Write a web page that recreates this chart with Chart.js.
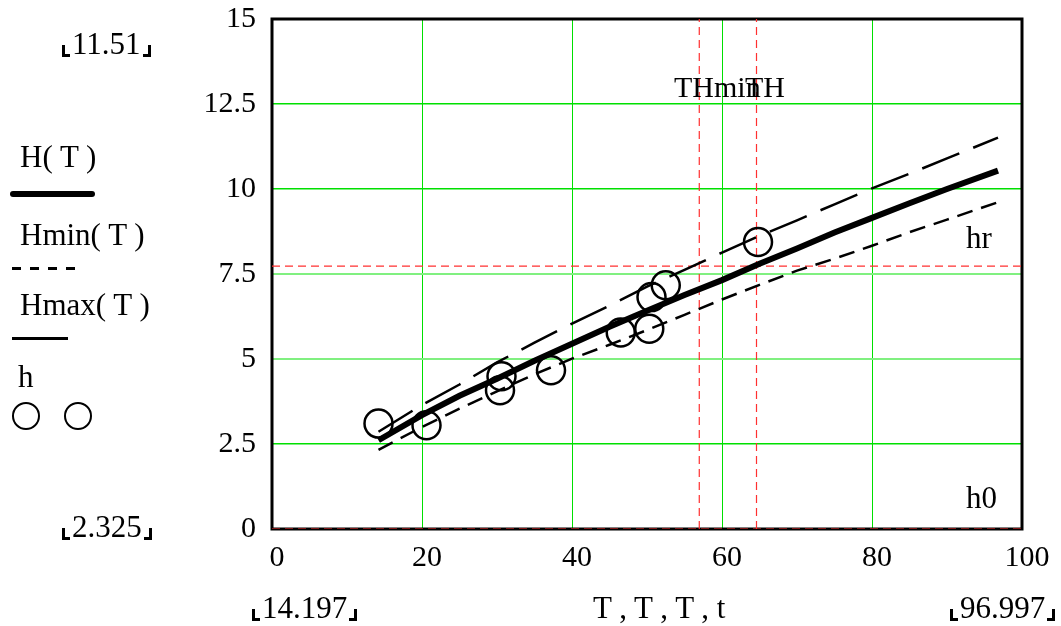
<!DOCTYPE html>
<html>
<head>
<meta charset="utf-8">
<script src="https://cdn.jsdelivr.net/npm/chart.js@4.4.0/dist/chart.umd.min.js"></script>
<style>
body { margin: 0; background: #fff; }
#wrap { position: relative; width: 1061px; height: 626px; font-family: "Liberation Serif", "Times New Roman", serif; font-size: 31px; color: #000; }
#chart { position: absolute; left: 0; top: 0; }
.txt { position: absolute; line-height: 31px; white-space: pre; }
.key { position: absolute; }
.ring { position: absolute; width: 24px; height: 24px; border: 2.5px solid #000; border-radius: 50%; }
.cl, .cr { display: inline-block; width: 5px; height: 9px; border-bottom: 3px solid #000; vertical-align: -3px; }
.cl { border-left: 3px solid #000; margin-right: 2px; }
.cr { border-right: 3px solid #000; margin-left: 2px; }
</style>
</head>
<body>
<div id="wrap">
  <canvas id="chart" width="1061" height="626"></canvas>

  <div class="txt" style="left:62px; top:28px;"><i class="cl"></i>11.51<i class="cr"></i></div>
  <div class="txt" style="left:20px; top:141px;">H( T )</div>
  <div class="key" style="left:10px; top:191px; width:85px; height:6px; border-radius:3px; background:#000;"></div>
  <div class="txt" style="left:20px; top:219px;">Hmin( T )</div>
  <div class="key" style="left:12px; top:267px; width:66px; height:3px; background:repeating-linear-gradient(to right, #000 0 9px, transparent 9px 18px);"></div>
  <div class="txt" style="left:20px; top:289px;">Hmax( T )</div>
  <div class="key" style="left:12px; top:337px; width:56px; height:3px; background:#000;"></div>
  <div class="txt" style="left:18px; top:361px;">h</div>
  <div class="ring" style="left:12px; top:402px;"></div>
  <div class="ring" style="left:64px; top:402px;"></div>
  <div class="txt" style="left:62px; top:511px;"><i class="cl"></i>2.325<i class="cr"></i></div>

  <div class="txt" style="left:252px; top:592px;"><i class="cl"></i>14.197<i class="cr"></i></div>
  <div class="txt" style="left:593px; top:592px;">T , T , T , t</div>
  <div class="txt" style="left:950px; top:592px;"><i class="cl"></i>96.997<i class="cr"></i></div>

  <div class="txt" style="left:674px; top:71px; font-size:30px;">THmin</div>
  <div class="txt" style="left:745px; top:71px; font-size:30px;">TH</div>
  <div class="txt" style="left:966px; top:222px;">hr</div>
  <div class="txt" style="left:966px; top:482px;">h0</div>
</div>

<script>
// curve values
var T = [14.2, 20, 25, 30, 35, 40, 45, 50, 55, 60, 65, 70, 75, 80, 85, 90, 96.8];
var H = [2.61, 3.35, 3.92, 4.42, 4.95, 5.45, 5.95, 6.42, 6.88, 7.32, 7.80, 8.25, 8.72, 9.15, 9.58, 10.0, 10.54];
var Hmin = [2.33, 3.0, 3.54, 4.05, 4.55, 5.01, 5.42, 5.85, 6.30, 6.75, 7.18, 7.60, 7.95, 8.33, 8.73, 9.10, 9.61];
var Hmax = [2.86, 3.65, 4.25, 4.90, 5.48, 6.04, 6.57, 7.13, 7.62, 8.13, 8.62, 9.08, 9.55, 10.02, 10.45, 10.9, 11.51];

// measured points
var t = [14.2, 20.6, 30.6, 30.4, 37.2, 46.5, 50.3, 50.6, 52.5, 64.8];
var h = [3.10, 3.05, 4.49, 4.08, 4.67, 5.78, 5.89, 6.82, 7.17, 8.44];

// markers
var THmin = 56.97, TH = 64.6;
var hr = 7.73, h0 = 0;

var xMin = 0, xMax = 100, xStep = 20;
var yMin = 0, yMax = 15, yStep = 2.5;

function pairs(xs, ys) {
    return xs.map(function(x, i) { return { x: x, y: ys[i] }; });
}

var FONT = { family: '"Liberation Serif", "Times New Roman", serif', size: 30 };
var RED = '#ff3030';
var GREEN = '#00e000';
var PALE = '#80f080';

// plot frame, drawn over the grid
var framePlugin = {
    id: 'frame',
    beforeDatasetsDraw: function(chart) {
        var a = chart.chartArea, ctx = chart.ctx;
        ctx.save();
        ctx.strokeStyle = '#000';
        ctx.lineWidth = 3;
        ctx.strokeRect(a.left, a.top, a.right - a.left, a.bottom - a.top);
        ctx.restore();
    }
};

function isPale(c) {
    return c.tick && (c.tick.value === 5 || c.tick.value === 7.5);
}

function markerLine(label, pts, order) {
    return { label: label, data: pts, showLine: true, borderColor: RED, borderWidth: 1.2, borderDash: [8, 5], pointRadius: 0, order: order };
}

new Chart(document.getElementById('chart'), {
    type: 'scatter',
    data: {
        datasets: [
            { label: 'H(T)', data: pairs(T, H), showLine: true, borderColor: '#000', borderWidth: 6, pointRadius: 0, order: 0 },
            { label: 'Hmin(T)', data: pairs(T, Hmin), showLine: true, borderColor: '#000', borderWidth: 2.5, borderDash: [16, 9], pointRadius: 0, order: 1 },
            { label: 'Hmax(T)', data: pairs(T, Hmax), showLine: true, borderColor: '#000', borderWidth: 2.5, borderDash: [40, 15], pointRadius: 0, order: 2 },
            { label: 'h', data: pairs(t, h), showLine: false, pointRadius: 14, pointHoverRadius: 14, pointBorderWidth: 2.5, pointBorderColor: '#000', pointBackgroundColor: 'rgba(0,0,0,0)', order: 3 },
            markerLine('THmin', [{ x: THmin, y: yMin }, { x: THmin, y: yMax }], 4),
            markerLine('TH', [{ x: TH, y: yMin }, { x: TH, y: yMax }], 5),
            markerLine('hr', [{ x: xMin, y: hr }, { x: xMax, y: hr }], 6),
            markerLine('h0', [{ x: xMin, y: h0 }, { x: xMax, y: h0 }], 7)
        ]
    },
    options: {
        responsive: false,
        animation: false,
        devicePixelRatio: 1,
        layout: { padding: { top: 19, right: 39, left: 0, bottom: 0 } },
        plugins: { legend: { display: false }, tooltip: { enabled: false } },
        scales: {
            x: {
                type: 'linear', min: xMin, max: xMax,
                afterFit: function(s) { s.height = 97; s.paddingLeft = 0; s.paddingRight = 0; },
                ticks: { stepSize: xStep, font: FONT, color: '#000', padding: 11, labelOffset: 5 },
                grid: { color: GREEN, lineWidth: 1, drawTicks: false },
                border: { display: false }
            },
            y: {
                type: 'linear', min: yMin, max: yMax,
                afterFit: function(s) { s.width = 272; s.paddingTop = 0; s.paddingBottom = 0; },
                ticks: { stepSize: yStep, font: FONT, color: '#000', padding: 16 },
                grid: {
                    color: function(c) { return isPale(c) ? PALE : GREEN; },
                    lineWidth: function(c) { return isPale(c) ? 2 : 1.5; },
                    drawTicks: false
                },
                border: { display: false }
            }
        }
    },
    plugins: [framePlugin]
});
</script>
</body>
</html>
